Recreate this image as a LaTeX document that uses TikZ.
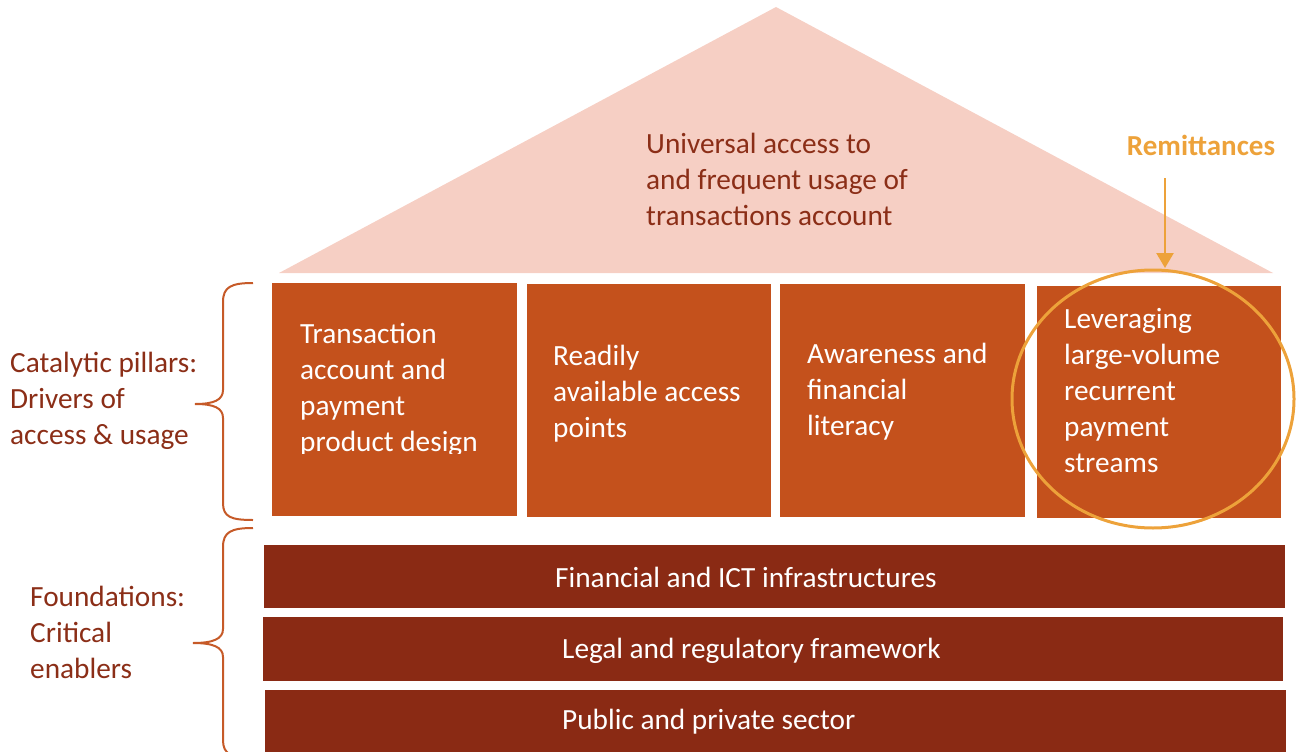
\documentclass[tikz,border=0pt]{standalone}
\usepackage{fontspec}
\setmainfont{Carlito}
\usetikzlibrary{arrows.meta}

\definecolor{roofpink}{HTML}{F6CFC4}
\definecolor{pillarorange}{HTML}{C4511C}
\definecolor{basered}{HTML}{8A2A14}
\definecolor{labelbrown}{HTML}{8B2E17}
\definecolor{bracebrown}{HTML}{C65A28}
\definecolor{remitorange}{HTML}{EDA23A}

\begin{document}
\begin{tikzpicture}[x=1pt, y=-1pt,
        every node/.style = {inner sep=0pt, font=\fontsize{29.3}{36}\selectfont},
        pillar/.style = {fill=pillarorange},
        layer/.style = {fill=basered},
        pillartext/.style = {anchor=west, align=left, text=white},
        layertext/.style = {anchor=west, text=white},
        sidetext/.style = {anchor=west, align=left, text=labelbrown},
        curly/.style = {draw=bracebrown, line width=2pt}]
    \useasboundingbox (0,0) rectangle (1296,752);
    \clip (0,0) rectangle (1296,752);

    % roof
    \fill[roofpink] (776,7) -- (279,273) -- (1273,273) -- cycle;
    \node[sidetext] (goal) at (646,179) {Universal access to\\and frequent usage of\\transactions account};

    % catalytic pillars
    \fill[pillar] (272,283) rectangle (517,516);
    \fill[pillar] (527,284) rectangle (771,517);
    \fill[pillar] (780,284) rectangle (1025,517);
    \fill[pillar] (1037,286) rectangle (1281,518);
    \begin{scope}
        \clip (272,283) rectangle (517,453);
        \node[pillartext] (design) at (300,390) {Transaction\\account and\\payment\\product design};
    \end{scope}
    \node[pillartext] (points) at (553,394) {Readily\\available access\\points};
    \node[pillartext] (literacy) at (807,392) {Awareness and\\financial\\literacy};
    \node[pillartext] (streams) at (1064,391) {Leveraging\\large-volume\\recurrent\\payment\\streams};

    % foundations
    \fill[layer] (264,545) rectangle (1285,608);
    \fill[layer] (263,617) rectangle (1283,681);
    \fill[layer] (265,690) rectangle (1286,760);
    \node[layertext] (infra) at (555,577) {Financial and ICT infrastructures};
    \node[layertext] (legal) at (562,651) {Legal and regulatory framework};
    \node[layertext] (sector) at (562,722) {Public and private sector};

    % remittances highlight
    \draw[remitorange, line width=3pt] (1153,399) ellipse [x radius=141, y radius=129];
    \node[text=remitorange, font=\fontsize{29}{34}\selectfont\bfseries] (remit) at (1201,145) {Remittances};
    \coordinate (hit) at (1165,268);
    \draw[remitorange, line width=2.5pt, -{Triangle[width=17pt,length=15pt]}] (1165,178) -- (hit);

    % braces and side labels
    \draw[curly] (253,283) .. controls (231,283) and (223,287) .. (223,302) -- (223,390)
        .. controls (223,400) and (214,404) .. (195,404)
        .. controls (214,404) and (223,408) .. (223,418) -- (223,503)
        .. controls (223,517) and (231,520) .. (253,520);
    \draw[curly] (253,528) .. controls (231,528) and (223,532) .. (223,547) -- (223,629)
        .. controls (223,639) and (213,643) .. (193,643)
        .. controls (213,643) and (223,647) .. (223,657) -- (223,740)
        .. controls (223,754) and (231,758) .. (253,758);
    \node[sidetext] (catalytic) at (10,401) {Catalytic pillars:\\Drivers of\\access \& usage};
    \node[sidetext] (foundations) at (30,632) {Foundations:\\Critical\\enablers};
\end{tikzpicture}
\end{document}
